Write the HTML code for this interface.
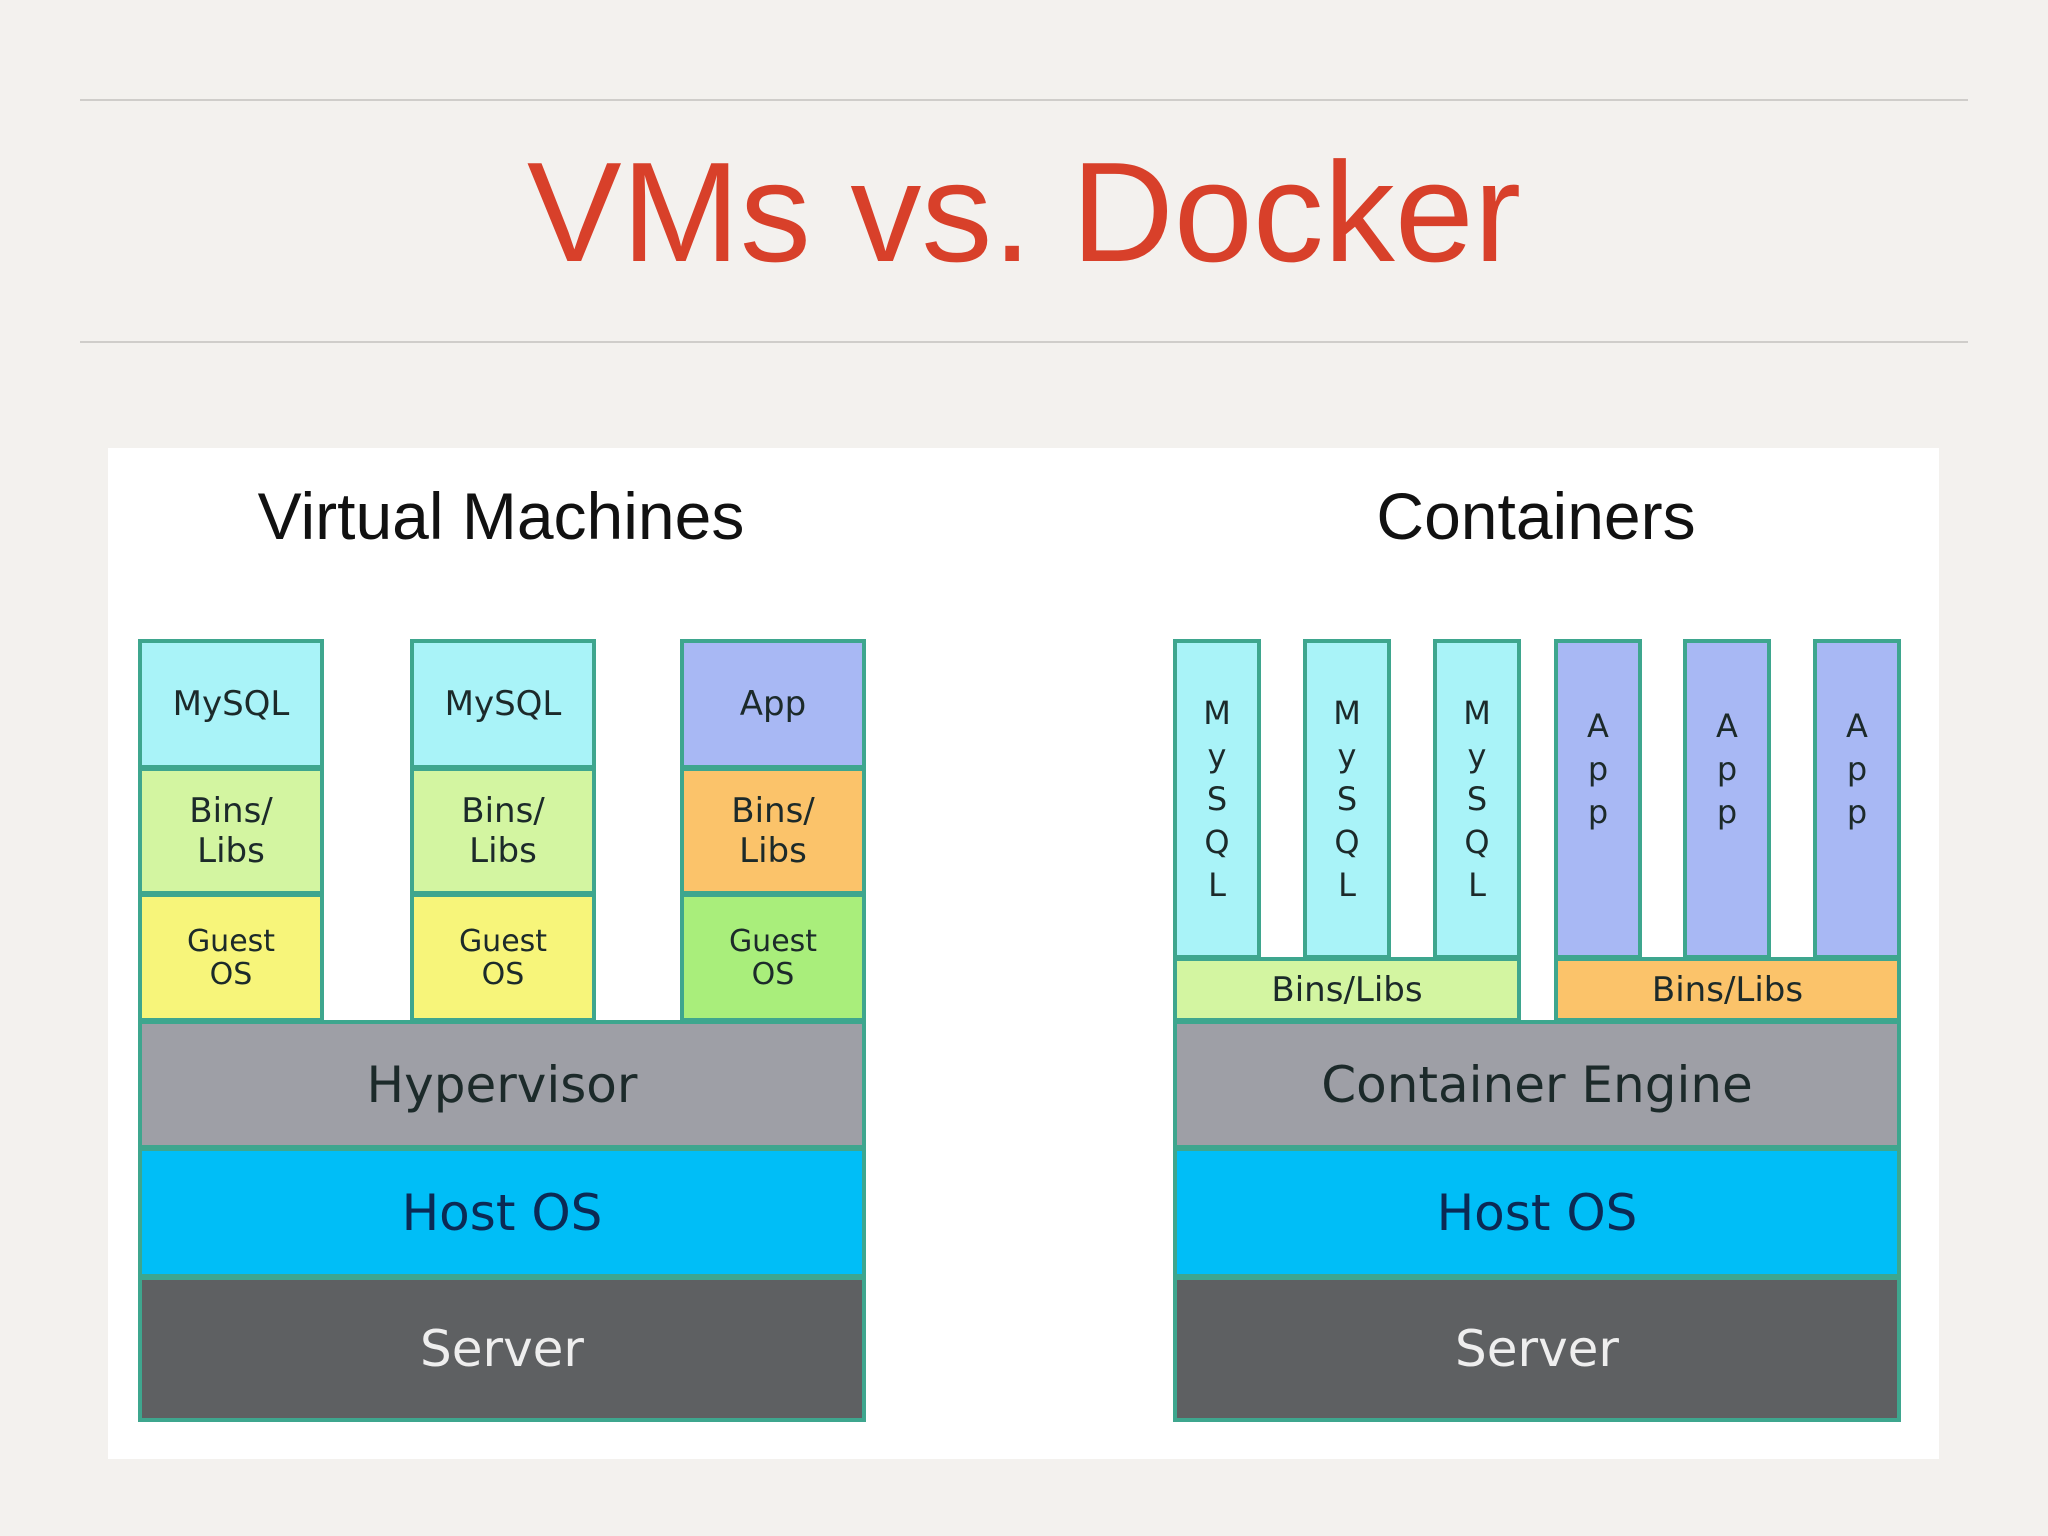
<!DOCTYPE html>
<html><head><meta charset="utf-8"><style>
html,body{margin:0;padding:0}
body{width:2048px;height:1536px;background:#f3f1ee;position:relative;overflow:hidden;font-family:"DejaVu Sans","Liberation Sans",sans-serif}
.line{position:absolute;left:80px;width:1888px;height:2px;background:#cfcdca}
.title{position:absolute;left:0;width:2048px;top:128px;text-align:center;font-family:"Liberation Sans",sans-serif;font-size:142px;color:#d8402a;line-height:170px}
.panel{position:absolute;left:108px;top:448px;width:1831px;height:1011px;background:#fff}
.b{position:absolute;box-sizing:border-box;border:4px solid #3ea68e;display:flex;align-items:center;justify-content:center;text-align:center;color:#1c2a2a;font-size:34px;line-height:40px}
.h{position:absolute;font-family:"Liberation Sans",sans-serif;font-size:66px;color:#111;text-align:center;width:700px}
.v{font-size:32px;line-height:43px}
.big{font-size:50px}
.cy{background:#a9f3f8}.lg{background:#d3f5a1}.ye{background:#f7f57a}.pu{background:#a8b8f4}.or{background:#fbc36a}.gr{background:#a9ee7b}
.gy{background:#9e9fa6}.bl{background:#00bef7;color:#0b2a55}.dk{background:#5e6062;color:#eee}
</style></head><body>
<div class="line" style="top:99px"></div>
<div class="line" style="top:341px"></div>
<div class="title">VMs vs. Docker</div>
<div class="panel"></div>
<div class="h" style="left:151px;top:478px">Virtual Machines</div>
<div class="h" style="left:1186px;top:478px">Containers</div>

<div class="b cy" style="left:138px;top:639px;width:186px;height:130px">MySQL</div>
<div class="b lg" style="left:138px;top:767px;width:186px;height:128px">Bins/<br>Libs</div>
<div class="b ye" style="left:138px;top:893px;width:186px;height:129px;font-size:30px;line-height:33px">Guest<br>OS</div>
<div class="b cy" style="left:410px;top:639px;width:186px;height:130px">MySQL</div>
<div class="b lg" style="left:410px;top:767px;width:186px;height:128px">Bins/<br>Libs</div>
<div class="b ye" style="left:410px;top:893px;width:186px;height:129px;font-size:30px;line-height:33px">Guest<br>OS</div>
<div class="b pu" style="left:680px;top:639px;width:186px;height:130px">App</div>
<div class="b or" style="left:680px;top:767px;width:186px;height:128px">Bins/<br>Libs</div>
<div class="b gr" style="left:680px;top:893px;width:186px;height:129px;font-size:30px;line-height:33px">Guest<br>OS</div>
<div class="b gy big" style="left:138px;top:1020px;width:728px;height:129px">Hypervisor</div>
<div class="b bl big" style="left:138px;top:1147px;width:728px;height:131px">Host OS</div>
<div class="b dk big" style="left:138px;top:1276px;width:728px;height:146px">Server</div>

<div class="b cy v" style="left:1173px;top:639px;width:88px;height:320px">M<br>y<br>S<br>Q<br>L</div>
<div class="b cy v" style="left:1303px;top:639px;width:88px;height:320px">M<br>y<br>S<br>Q<br>L</div>
<div class="b cy v" style="left:1433px;top:639px;width:88px;height:320px">M<br>y<br>S<br>Q<br>L</div>
<div class="b pu v" style="left:1554px;top:639px;width:88px;height:320px;padding-bottom:60px">A<br>p<br>p</div>
<div class="b pu v" style="left:1683px;top:639px;width:88px;height:320px;padding-bottom:60px">A<br>p<br>p</div>
<div class="b pu v" style="left:1813px;top:639px;width:88px;height:320px;padding-bottom:60px">A<br>p<br>p</div>
<div class="b lg" style="left:1173px;top:957px;width:348px;height:65px">Bins/Libs</div>
<div class="b or" style="left:1554px;top:957px;width:347px;height:65px">Bins/Libs</div>
<div class="b gy big" style="left:1173px;top:1020px;width:728px;height:129px">Container Engine</div>
<div class="b bl big" style="left:1173px;top:1147px;width:728px;height:131px">Host OS</div>
<div class="b dk big" style="left:1173px;top:1276px;width:728px;height:146px">Server</div>
</body></html>
